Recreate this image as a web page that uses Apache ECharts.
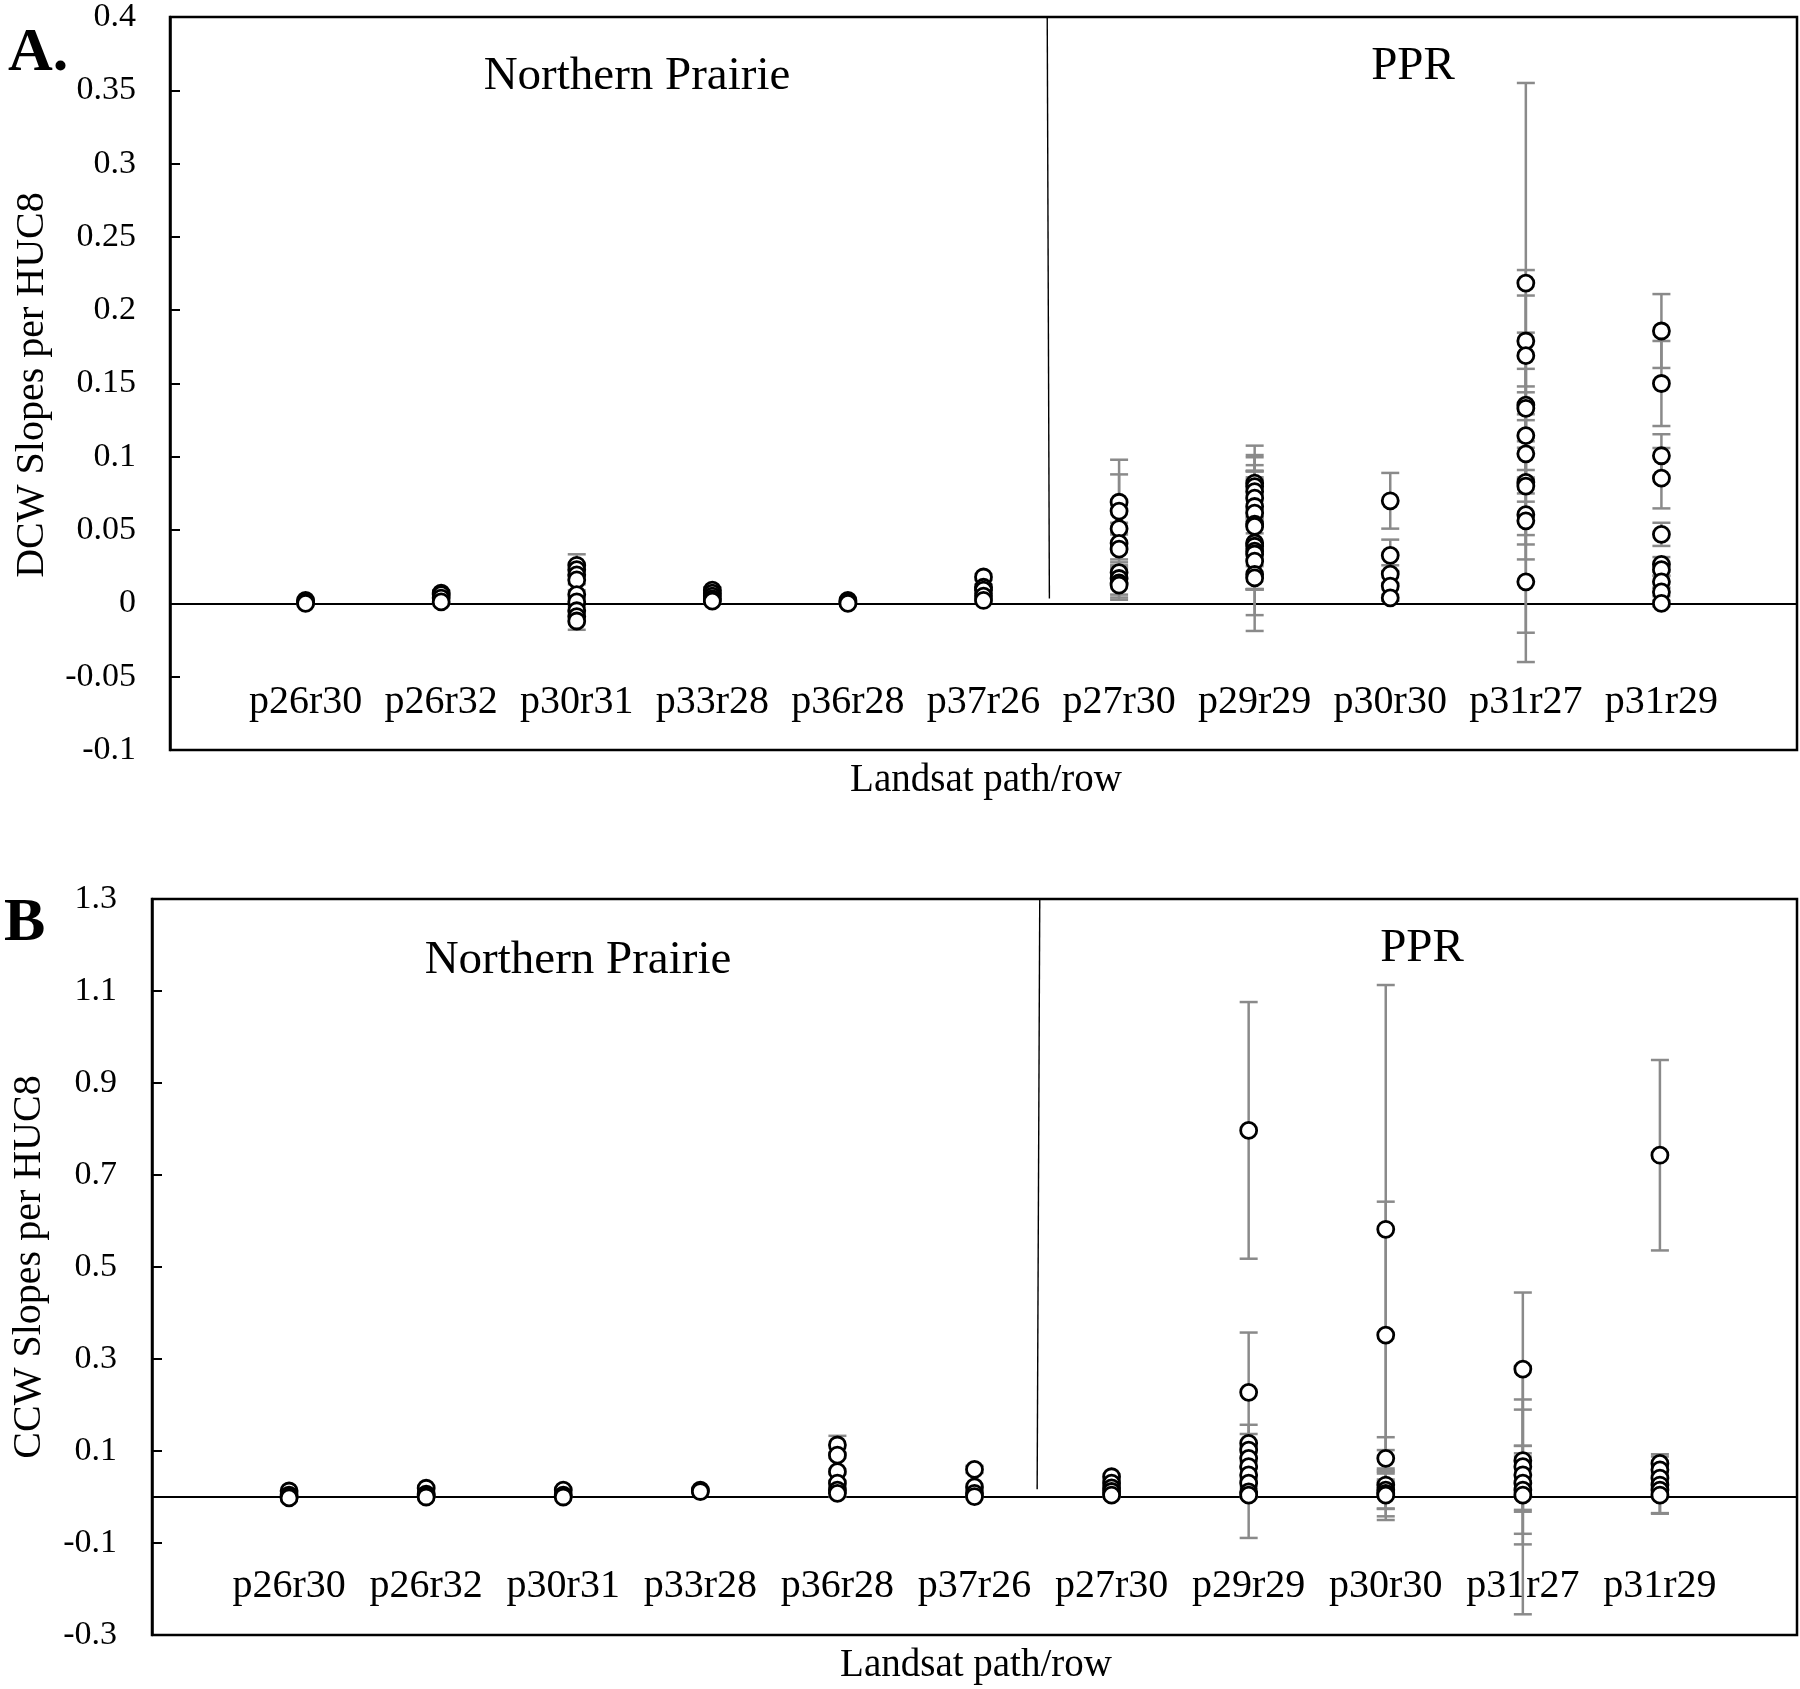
<!DOCTYPE html>
<html>
<head>
<meta charset="utf-8">
<script src="https://cdn.jsdelivr.net/npm/echarts@6/dist/echarts.min.js"></script>
<style>
  html, body { margin: 0; padding: 0; background: #fff; }
  #chart { width: 1800px; height: 1689px; }
</style>
</head>
<body>
<div id="chart"></div>
<script>
// Landsat path/row categories (x positions 1..11)
const categories = ['p26r30', 'p26r32', 'p30r31', 'p33r28', 'p36r28', 'p37r26',
  'p27r30', 'p29r29', 'p30r30', 'p31r27', 'p31r29']

// A. DCW slopes per HUC8, one list per path/row, with error amounts
const dcwSlopes = [
  [0.002, 0.001, 0.0],
  [0.007, 0.006, 0.0036, 0.001],
  [0.026, 0.023, 0.0195, 0.016, 0.006, 0.001, -0.005, -0.009, -0.012],
  [0.009, 0.007, 0.005, 0.003, 0.0015],
  [0.002, 0.001, 0.0],
  [0.018, 0.011, 0.009, 0.005, 0.002],
  [0.069, 0.063, 0.051, 0.041, 0.037, 0.021, 0.017, 0.014, 0.0125],
  [0.082, 0.0797, 0.0763, 0.0718, 0.0661, 0.0616, 0.054, 0.0525, 0.0412, 0.039, 0.0356, 0.0337, 0.0288, 0.0197, 0.0174],
  [0.070, 0.0328, 0.020, 0.0118, 0.0038],
  [0.2185, 0.179, 0.169, 0.1353, 0.1331, 0.1145, 0.102, 0.0826, 0.080, 0.0605, 0.0563, 0.0147],
  [0.1858, 0.150, 0.1007, 0.0854, 0.0471, 0.0266, 0.023, 0.0147, 0.0078, 0.0]
]
const dcwErrors = [
  [0.001, 0.001, 0.001],
  [0.002, 0.002, 0.001, 0.001],
  [0.0075, 0.004, 0.003, 0.003, 0.003, 0.003, 0.003, 0.004, 0.006],
  [0.002, 0.002, 0.001, 0.001, 0.001],
  [0.001, 0.001, 0.001],
  [0.002, 0.002, 0.002, 0.002, 0.001],
  [0.029, 0.025, 0.004, 0.011, 0.011, 0.004, 0.011, 0.010, 0.010],
  [0.0256, 0.020, 0.018, 0.013, 0.024, 0.029, 0.036, 0.012, 0.060, 0.047, 0.026, 0.024, 0.019, 0.010, 0.008],
  [0.019, 0.0107, 0.006, 0.010, 0.002],
  [0.1365, 0.031, 0.0584, 0.0494, 0.0269, 0.0295, 0.027, 0.0424, 0.0334, 0.0305, 0.0763, 0.0547],
  [0.0252, 0.029, 0.0147, 0.0206, 0.0079, 0.005, 0.004, 0.004, 0.003, 0.002]
]

// B. CCW slopes per HUC8
const ccwSlopes = [
  [0.013, 0.004, 0.0, -0.002],
  [0.019, 0.006, 0.002, 0.0],
  [0.015, 0.004, 0.0],
  [0.015, 0.012],
  [0.113, 0.091, 0.055, 0.030, 0.015, 0.008],
  [0.060, 0.022, 0.008, 0.001],
  [0.044, 0.030, 0.020, 0.012, 0.004],
  [0.797, 0.2275, 0.1167, 0.102, 0.084, 0.066, 0.048, 0.030, 0.011, 0.004],
  [0.582, 0.352, 0.084, 0.026, 0.015, 0.008, 0.004],
  [0.278, 0.079, 0.066, 0.048, 0.030, 0.015, 0.004],
  [0.743, 0.073, 0.059, 0.041, 0.026, 0.015, 0.004]
]
const ccwErrors = [
  [0.002, 0.002, 0.002, 0.002],
  [0.003, 0.002, 0.002, 0.002],
  [0.002, 0.002, 0.002],
  [0.002, 0.002],
  [0.020, 0.005, 0.005, 0.005, 0.005, 0.008],
  [0.008, 0.005, 0.003, 0.002],
  [0.005, 0.004, 0.004, 0.004, 0.003],
  [0.279, 0.130, 0.0403, 0.035, 0.020, 0.020, 0.015, 0.010, 0.100, 0.005],
  [0.531, 0.290, 0.046, 0.076, 0.040, 0.050, 0.030],
  [0.1665, 0.111, 0.146, 0.047, 0.058, 0.270, 0.107],
  [0.207, 0.020, 0.010, 0.010, 0.062, 0.050, 0.040]
]

// divider between Northern Prairie and PPR
const dividerA = [[6.47, 0.4], [6.486, 0.0034]]
const dividerB = [[6.476, 1.3], [6.457, 0.017]]

const serif = "'Liberation Serif', 'Times New Roman', serif"
const barColor = '#8a8a8a'

function points (slopes) {
  const out = []
  slopes.forEach((list, i) => list.forEach(v => out.push([i + 1, v])))
  return out
}

function bars (slopes, errors) {
  const out = []
  slopes.forEach((list, i) => list.forEach((v, j) => {
    out.push([i + 1, v - errors[i][j], v + errors[i][j]])
  }))
  return out
}

function renderBar (params, api) {
  const x = api.value(0)
  const lo = api.coord([x, api.value(1)])
  const hi = api.coord([x, api.value(2)])
  const w = 9
  const style = { stroke: barColor, lineWidth: 2.5 }
  return {
    type: 'group',
    children: [
      { type: 'line', shape: { x1: lo[0], y1: lo[1], x2: hi[0], y2: hi[1] }, style },
      { type: 'line', shape: { x1: lo[0] - w, y1: lo[1], x2: lo[0] + w, y2: lo[1] }, style },
      { type: 'line', shape: { x1: hi[0] - w, y1: hi[1], x2: hi[0] + w, y2: hi[1] }, style }
    ]
  }
}

// labels sit inside the box, so the margin is negative
function xAxisFor (idx, margin) {
  return {
    gridIndex: idx,
    type: 'value',
    min: 0,
    max: 12,
    interval: 1,
    axisLine: { onZero: true, lineStyle: { color: '#000', width: 2 } },
    axisTick: { show: false },
    splitLine: { show: false },
    axisLabel: {
      margin: margin,
      fontSize: 40,
      fontFamily: serif,
      color: '#000',
      formatter: v => categories[v - 1] || ''
    }
  }
}

function yAxisFor (idx, min, max, interval, margin) {
  return {
    gridIndex: idx,
    type: 'value',
    min: min,
    max: max,
    interval: interval,
    axisLine: { show: true, onZero: false, lineStyle: { color: '#000', width: 2.5 } },
    axisTick: { show: true, inside: true, length: 10, lineStyle: { color: '#000', width: 2 } },
    splitLine: { show: false },
    axisLabel: {
      margin: margin,
      fontSize: 34,
      fontFamily: serif,
      color: '#000',
      formatter: v => String(+v.toFixed(2))
    }
  }
}

function seriesFor (idx, slopes, errors, divider) {
  return [
    {
      type: 'custom',
      xAxisIndex: idx,
      yAxisIndex: idx,
      renderItem: renderBar,
      encode: { x: 0, y: [1, 2] },
      data: bars(slopes, errors),
      z: 2
    },
    {
      type: 'line',
      xAxisIndex: idx,
      yAxisIndex: idx,
      data: divider,
      symbol: 'none',
      lineStyle: { color: '#000', width: 1.4 },
      z: 1
    },
    {
      type: 'scatter',
      xAxisIndex: idx,
      yAxisIndex: idx,
      data: points(slopes),
      symbol: 'circle',
      symbolSize: 16,
      itemStyle: { color: '#fff', borderColor: '#000', borderWidth: 2.8, opacity: 1 },
      z: 3
    }
  ]
}

function text (str, x, y, size, extra) {
  return Object.assign({
    type: 'text',
    x: x,
    y: y,
    style: {
      text: str,
      fontSize: size,
      fontFamily: serif,
      fill: '#000',
      align: 'center',
      verticalAlign: 'middle'
    }
  }, extra || {})
}

function bold (str, x, y) {
  return {
    type: 'text',
    x: x,
    y: y,
    style: { text: str, fontSize: 62, fontWeight: 'bold', fontFamily: serif, fill: '#000', align: 'left', verticalAlign: 'middle' }
  }
}

const chart = echarts.init(document.getElementById('chart'), null, { renderer: 'canvas' })
chart.setOption({
  animation: false,
  backgroundColor: '#fff',
  grid: [
    { left: 170, top: 14, width: 1627, height: 736, show: true, borderColor: '#000', borderWidth: 2.5 },
    { left: 152, top: 899, width: 1645, height: 736, show: true, borderColor: '#000', borderWidth: 2.5 }
  ],
  xAxis: [xAxisFor(0, -68), xAxisFor(1, -69)],
  yAxis: [yAxisFor(0, -0.1, 0.4, 0.05, 34), yAxisFor(1, -0.3, 1.3, 0.2, 35)],
  series: [
    ...seriesFor(0, dcwSlopes, dcwErrors, dividerA),
    ...seriesFor(1, ccwSlopes, ccwErrors, dividerB)
  ],
  graphic: [
    bold('A.', 8, 54),
    bold('B', 4, 924),
    text('Northern Prairie', 637, 77, 47),
    text('PPR', 1413, 67, 47),
    text('Northern Prairie', 578, 961, 47),
    text('PPR', 1422, 949, 47),
    text('Landsat path/row', 986, 781, 39),
    text('Landsat path/row', 976, 1666, 39),
    text('DCW Slopes per HUC8', 32, 385, 40, { rotation: Math.PI / 2 }),
    text('CCW Slopes per HUC8', 29, 1267, 40, { rotation: Math.PI / 2 })
  ]
})
</script>
</body>
</html>
